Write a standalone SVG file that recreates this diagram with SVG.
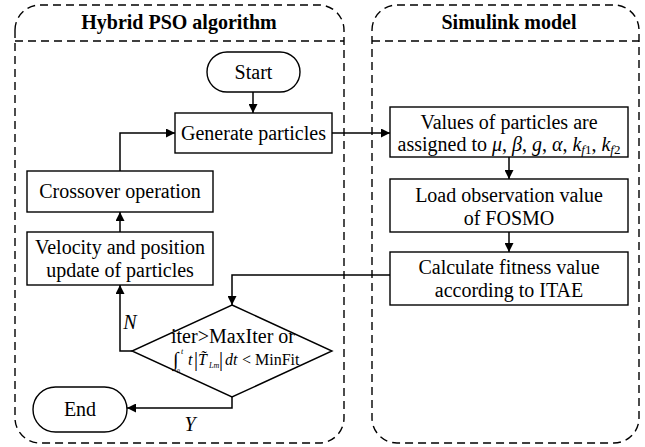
<svg xmlns="http://www.w3.org/2000/svg" width="645" height="447" viewBox="0 0 645 447" font-family="'Liberation Serif', 'Times New Roman', serif">
  <style>
    .frame { fill: none; stroke: #000; stroke-width: 1.4; stroke-dasharray: 8 5; }
    .box { fill: #fff; stroke: #000; stroke-width: 1.4; }
    .wire { fill: none; stroke: #000; stroke-width: 1.5; }
    text { font-family: "Liberation Serif", "Times New Roman", serif; fill: #000; }
    .t { font-size: 20px; text-anchor: middle; }
    .h { font-size: 20px; font-weight: bold; text-anchor: middle; }
    .i { font-style: italic; }
  </style>
  <defs>
    <marker id="arrow" viewBox="0 0 10 10" refX="10" refY="5" markerWidth="11" markerHeight="9" markerUnits="userSpaceOnUse" orient="auto">
      <path d="M0,0 L10,5 L0,10 Z" fill="#000"/>
    </marker>
  </defs>

  <!-- swimlane frames -->
  <g id="lane-pso">
    <path class="frame" d="M15,30 A25,25 0 0 1 40,5 L319,5 A25,25 0 0 1 344,30 L344,418 A25,25 0 0 1 319,443 L40,443 A25,25 0 0 1 15,418 Z"/>
    <line class="frame" x1="15" y1="41" x2="344" y2="41"/>
    <text class="h" x="179" y="29">Hybrid PSO algorithm</text>
  </g>
  <g id="lane-simulink">
    <path class="frame" d="M372,30 A25,25 0 0 1 397,5 L614,5 A25,25 0 0 1 639,30 L639,418 A25,25 0 0 1 614,443 L397,443 A25,25 0 0 1 372,418 Z"/>
    <line class="frame" x1="372" y1="41" x2="639" y2="41"/>
    <text class="h" x="509" y="29">Simulink model</text>
  </g>

  <!-- connectors -->
  <g id="connectors">
    <path class="wire" d="M253,92 L253,113" marker-end="url(#arrow)"/>
    <path class="wire" d="M120,171 L120,133 L175,133" marker-end="url(#arrow)"/>
    <path class="wire" d="M332,133 L390,133" marker-end="url(#arrow)"/>
    <path class="wire" d="M509,157 L509,179" marker-end="url(#arrow)"/>
    <path class="wire" d="M509,232 L509,252" marker-end="url(#arrow)"/>
    <path class="wire" d="M390,275 L232,275 L232,305" marker-end="url(#arrow)"/>
    <path class="wire" d="M120,232 L120,212" marker-end="url(#arrow)"/>
    <path class="wire" d="M132,351 L120,351 L120,285" marker-end="url(#arrow)"/>
    <path class="wire" d="M232,397 L232,408 L127,408" marker-end="url(#arrow)"/>
    <text class="t i" x="130" y="329">N</text>
    <text class="t i" x="190" y="431">Y</text>
  </g>

  <!-- PSO nodes -->
  <g id="start">
    <rect class="box" x="207" y="52" width="93" height="40" rx="20" ry="20"/>
    <text class="t" x="253.5" y="79">Start</text>
  </g>
  <g id="generate">
    <rect class="box" x="175" y="113" width="157" height="40"/>
    <text class="t" x="253.5" y="140">Generate particles</text>
  </g>
  <g id="crossover">
    <rect class="box" x="27" y="171" width="186" height="41"/>
    <text class="t" x="120" y="198">Crossover operation</text>
  </g>
  <g id="update">
    <rect class="box" x="27" y="232" width="186" height="53"/>
    <text class="t" x="120" y="254">Velocity and position</text>
    <text class="t" x="120" y="277">update of particles</text>
  </g>
  <g id="decision">
    <polygon class="box" points="232,305 332,351 232,397 132,351"/>
    <text class="t" x="233" y="343" font-size="19">iter&gt;MaxIter or</text>
    <!-- ITAE criterion: integral of t|T~Lm| dt -->
    <text x="173" y="366" font-size="20">∫</text>
    <text class="i" x="181" y="354" font-size="8">t</text>
    <text x="177" y="373" font-size="6">0</text>
    <text class="i" x="188" y="365" font-size="16">t</text>
    <text x="194" y="366" font-size="20">|</text>
    <text class="i" x="198" y="365" font-size="16">T̃</text>
    <text class="i" x="209" y="368" font-size="8">Lm</text>
    <text x="219" y="366" font-size="20">|</text>
    <text class="i" x="225" y="365" font-size="16">dt</text>
    <text x="242" y="365" font-size="16">&lt; MinFit</text>
  </g>
  <g id="end">
    <rect class="box" x="33" y="387" width="94" height="45" rx="22.5" ry="22.5"/>
    <text class="t" x="80" y="416">End</text>
  </g>

  <!-- Simulink nodes -->
  <g id="assign">
    <rect class="box" x="390" y="107" width="238" height="50"/>
    <text class="t" x="509" y="129">Values of particles are</text>
    <text class="t" x="509" y="151">assigned to <tspan class="i">μ</tspan>, <tspan class="i">β</tspan>, <tspan class="i">g</tspan>, <tspan class="i">α</tspan>, <tspan class="i">k</tspan><tspan class="i" font-size="13" dy="3">f</tspan><tspan font-size="13">1</tspan><tspan dy="-3">, </tspan><tspan class="i">k</tspan><tspan class="i" font-size="13" dy="3">f</tspan><tspan font-size="13">2</tspan></text>
  </g>
  <g id="load">
    <rect class="box" x="390" y="179" width="238" height="53"/>
    <text class="t" x="509" y="202">Load observation value</text>
    <text class="t" x="509" y="225">of FOSMO</text>
  </g>
  <g id="fitness">
    <rect class="box" x="390" y="252" width="238" height="53"/>
    <text class="t" x="509" y="274">Calculate fitness value</text>
    <text class="t" x="509" y="297">according to ITAE</text>
  </g>
</svg>
